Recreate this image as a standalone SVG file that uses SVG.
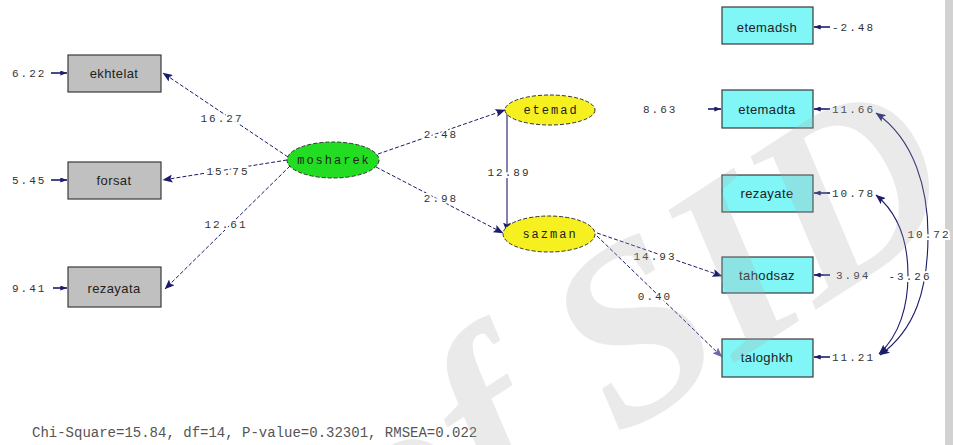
<svg xmlns="http://www.w3.org/2000/svg" width="953" height="445" viewBox="0 0 953 445">
  <defs>
    <marker id="ah" viewBox="0 0 10 8" refX="9.5" refY="4" markerWidth="10" markerHeight="8" markerUnits="userSpaceOnUse" orient="auto-start-reverse">
      <path d="M0,0 L10,4 L0,8 L2,4 Z" fill="#1c1c6a"/>
    </marker>
    <marker id="ahp" viewBox="0 0 10 8" refX="9.5" refY="4" markerWidth="10" markerHeight="8" markerUnits="userSpaceOnUse" orient="auto">
      <path d="M0,0 L10,4 L0,8 L2,4 Z" fill="#6a6aa8"/>
    </marker>
    <marker id="eh" viewBox="0 0 8 6" refX="8" refY="3" markerWidth="7" markerHeight="5" markerUnits="userSpaceOnUse" orient="auto">
      <path d="M0,0 L8,3 L0,6 Z" fill="#1c1c6a"/>
    </marker>
  </defs>
  <style>
    .obs-gray { fill: #c0c0c0; stroke: #3a3a3a; stroke-width: 1.2; }
    .obs-cyan { fill: #80f6f6; stroke: #3a3a3a; stroke-width: 1.2; }
    .lat { stroke: #333; stroke-width: 1; stroke-dasharray: 4 2; }
    .blabel { font-family: "Liberation Sans", Arial, sans-serif; font-size: 13px; fill: #222; text-anchor: middle; letter-spacing: 0.4px; }
    .elabel { font-family: "Liberation Mono", "Courier New", monospace; font-size: 12px; fill: #222; text-anchor: middle; letter-spacing: 2px; }
    .num { font-family: "Liberation Mono", "Courier New", monospace; font-size: 11px; fill: #333; letter-spacing: 2px; }
    .plabel { font-family: "Liberation Mono", "Courier New", monospace; font-size: 11px; fill: #333; letter-spacing: 2px; text-anchor: middle; stroke: #fff; stroke-width: 4px; paint-order: stroke; }
    .path { fill: none; stroke: #1c1c6a; stroke-width: 1; stroke-dasharray: 4 2; }
    .solid { fill: none; stroke: #1c1c6a; stroke-width: 1.1; }
    .err { fill: none; stroke: #1c1c6a; stroke-width: 1.6; }
  </style>
  <rect width="953" height="445" fill="#ffffff"/>
  <rect x="945" y="0" width="8" height="445" fill="#d2d2d2"/>

  <!-- structural and measurement paths -->
  <g id="connectors">
    <path class="path" d="M288,157 L163,73" marker-end="url(#ah)"/>
    <path class="path" d="M287,160 L163,180" marker-end="url(#ah)"/>
    <path class="path" d="M290,166 L165,289" marker-end="url(#ah)"/>
    <path class="path" d="M378,154 L505,110" marker-end="url(#ah)"/>
    <path class="path" d="M376,167 L503,233" marker-end="url(#ah)"/>
    <path class="solid" d="M507,111 L507,232" marker-end="url(#ah)"/>
    <path class="path" d="M597,233 L722,276" marker-end="url(#ah)"/>
    <path class="path" d="M597,236 L722,357" stroke="#5a5a9c" marker-end="url(#ahp)"/>
    <!-- error covariances -->
    <path class="solid" d="M876,113 C915,140 928,190 928,235 C928,290 915,330 880,355" marker-start="url(#ah)" marker-end="url(#ah)"/>
    <path class="solid" d="M876,195 C900,215 908,245 908,275 C908,305 900,335 879,354" stroke="#3a3a80" marker-start="url(#ah)" marker-end="url(#ah)"/>
    <!-- error terms -->
    <path class="err" d="M51,73 L67,73" marker-end="url(#eh)"/>
    <path class="err" d="M51,180 L67,180" marker-end="url(#eh)"/>
    <path class="err" d="M53,288 L67,288" marker-end="url(#eh)"/>
    <path class="err" d="M830,27 L814,27" marker-end="url(#eh)"/>
    <path class="err" d="M708,109 L721,109" marker-end="url(#eh)"/>
    <path class="err" d="M830,109 L814,109" marker-end="url(#eh)"/>
    <path class="err" d="M830,193 L814,193" marker-end="url(#eh)"/>
    <path class="err" d="M830,275 L814,275" marker-end="url(#eh)"/>
    <path class="err" d="M830,357 L814,357" marker-end="url(#eh)"/>
    <!-- path coefficients -->
    <text class="plabel" x="222" y="122">16.27</text>
    <text class="plabel" x="228" y="175">15.75</text>
    <text class="plabel" x="226" y="228">12.61</text>
    <text class="plabel" x="441" y="138">2.48</text>
    <text class="plabel" x="441" y="202">2.98</text>
    <text class="plabel" x="509" y="176">12.89</text>
    <text class="plabel" x="655" y="260">14.93</text>
    <text class="plabel" x="655" y="300">0.40</text>
    <text class="plabel" x="929" y="238">10.72</text>
    <text class="plabel" x="910" y="280">-3.26</text>
  </g>

  <g id="ekhtelat">
    <rect class="obs-gray" x="68" y="55" width="93" height="37"/>
    <text class="blabel" x="114" y="78">ekhtelat</text>
    <text class="num" x="12" y="77">6.22</text>
  </g>
  <g id="forsat">
    <rect class="obs-gray" x="68" y="162" width="93" height="37"/>
    <text class="blabel" x="114" y="185">forsat</text>
    <text class="num" x="12" y="184">5.45</text>
  </g>
  <g id="rezayata">
    <rect class="obs-gray" x="68" y="267" width="93" height="40"/>
    <text class="blabel" x="114" y="293">rezayata</text>
    <text class="num" x="12" y="292">9.41</text>
  </g>

  <g id="mosharek">
    <ellipse class="lat" cx="333" cy="160" rx="46" ry="18" fill="#22dd22"/>
    <text class="elabel" x="334" y="164">mosharek</text>
  </g>
  <g id="etemad">
    <ellipse class="lat" cx="550" cy="110" rx="45" ry="15" fill="#f6f020"/>
    <text class="elabel" x="551" y="114">etemad</text>
  </g>
  <g id="sazman">
    <ellipse class="lat" cx="549" cy="234" rx="46" ry="18" fill="#f6f020"/>
    <text class="elabel" x="550" y="238">sazman</text>
  </g>

  <g id="etemadsh">
    <rect class="obs-cyan" x="722" y="7" width="91" height="37"/>
    <text class="blabel" x="767" y="32">etemadsh</text>
    <text class="num" x="832" y="31">-2.48</text>
  </g>
  <g id="etemadta">
    <rect class="obs-cyan" x="722" y="90" width="91" height="38"/>
    <text class="blabel" x="767" y="114">etemadta</text>
    <text class="num" x="643" y="113">8.63</text>
    <text class="num" x="832" y="113">11.66</text>
  </g>
  <g id="rezayate">
    <rect class="obs-cyan" x="722" y="175" width="91" height="37"/>
    <text class="blabel" x="767" y="198">rezayate</text>
    <text class="num" x="832" y="197">10.78</text>
  </g>
  <g id="tahodsaz">
    <rect class="obs-cyan" x="722" y="257" width="91" height="36"/>
    <text class="blabel" x="767" y="280">tahodsaz</text>
    <text class="num" x="836" y="279">3.94</text>
  </g>
  <g id="taloghkh">
    <rect class="obs-cyan" x="722" y="339" width="91" height="38"/>
    <text class="blabel" x="767" y="362">taloghkh</text>
    <text class="num" x="832" y="361">11.21</text>
  </g>

  <text x="32" y="437" font-family="Liberation Mono, 'Courier New', monospace" font-size="14" fill="#555">Chi-Square=15.84, df=14, P-value=0.32301, RMSEA=0.022</text>

  <!-- faint overlay lettering -->
  <text transform="translate(392,585) rotate(-33)" font-family="Liberation Serif, 'Times New Roman', serif" font-style="italic" font-weight="bold" font-size="250" fill="#aaa" fill-opacity="0.25">of SID</text>
</svg>
